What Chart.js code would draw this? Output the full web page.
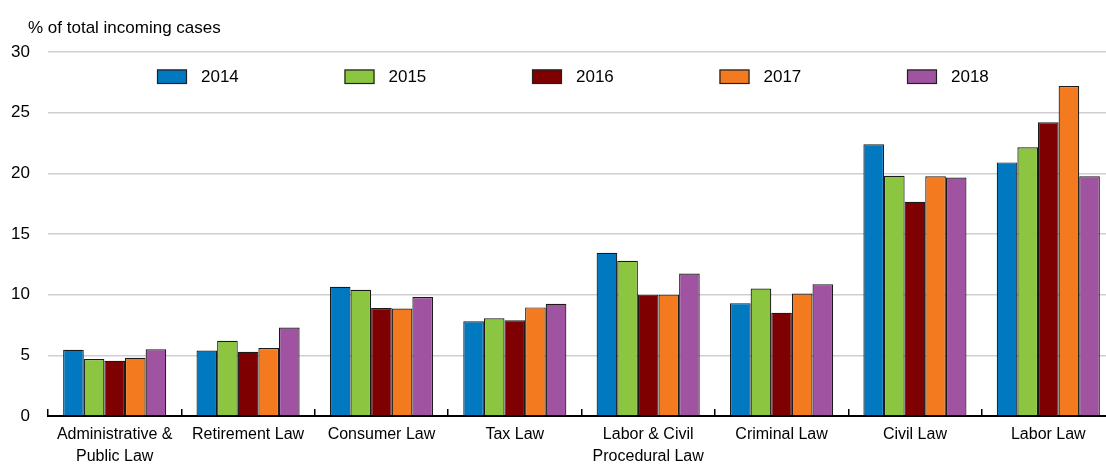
<!DOCTYPE html>
<html><head><meta charset="utf-8">
<script src="https://cdn.jsdelivr.net/npm/chart.js@4.4.1/dist/chart.umd.min.js"></script>
<style>
html,body{margin:0;padding:0;background:#fff;overflow:hidden;}
#wrap{width:1106px;height:465px;overflow:hidden;position:relative;}
#inner{width:1116px;height:465px;position:absolute;left:0;top:0;}
</style></head><body>
<div id="wrap"><div id="inner"><canvas id="c"></canvas></div></div>
<script>
const categories = [["Administrative &","Public Law"],"Retirement Law","Consumer Law","Tax Law",["Labor & Civil","Procedural Law"],"Criminal Law","Civil Law","Labor Law"];
const seriesLabels = ["2014","2015","2016","2017","2018"];
const v2014 = [5.45, 5.4, 10.65, 7.8, 13.45, 9.3, 22.4, 20.9];
const v2015 = [4.7, 6.2, 10.4, 8.05, 12.8, 10.5, 19.8, 22.15];
const v2016 = [4.55, 5.3, 8.9, 7.9, 10.0, 8.5, 17.65, 24.2];
const v2017 = [4.8, 5.6, 8.85, 8.95, 10.0, 10.1, 19.75, 27.2];
const v2018 = [5.5, 7.3, 9.8, 9.25, 11.75, 10.85, 19.65, 19.75];
const seriesColors = ["#0079C1", "#8CC641", "#7F0000", "#F47A20", "#A053A0"];
const yMin = 0, yMax = 30, yStep = 5;
const yTitle = "% of total incoming cases";

const FONT = "'Liberation Sans',Arial,sans-serif";
const allValues = [v2014, v2015, v2016, v2017, v2018];

const overlay = {
  id: 'overlay',
  afterDraw(chart) {
    const ctx = chart.ctx;
    const ca = chart.chartArea;
    ctx.save();
    ctx.fillStyle = '#000';
    ctx.font = "17px " + FONT;
    ctx.textAlign = 'left';
    ctx.textBaseline = 'alphabetic';
    ctx.fillText(yTitle, 28, 33);
    // legend
    const x0 = ca.left + 109, step = 187.5;
    ctx.textBaseline = 'middle';
    chart.data.datasets.forEach((ds, i) => {
      const x = x0 + i * step;
      const y = ca.top + 17.5;
      ctx.fillStyle = ds.backgroundColor;
      ctx.fillRect(x, y, 30, 14.5);
      ctx.strokeStyle = '#222';
      ctx.lineWidth = 1.2;
      ctx.strokeRect(x + 0.5, y + 0.5, 29, 13.5);
      ctx.fillStyle = '#000';
      ctx.fillText(ds.label, x + 44, y + 7.8);
    });
    ctx.restore();
  }
};

new Chart(document.getElementById('c'), {
  type: 'bar',
  data: {
    labels: categories,
    datasets: seriesLabels.map((lab, i) => ({
      label: lab,
      data: allValues[i],
      backgroundColor: seriesColors[i],
      borderColor: '#1a1a1a',
      borderWidth: 1.2,
      categoryPercentage: 0.773,
      barPercentage: 1.0
    }))
  },
  options: {
    responsive: true,
    maintainAspectRatio: false,
    animation: false,
    layout: { padding: { top: 52, right: 1, left: 0, bottom: 0 } },
    plugins: { legend: { display: false }, title: { display: false }, tooltip: { enabled: false } },
    scales: {
      x: {
        afterFit(scale) { scale.height = 49; },
        grid: { display: true, drawOnChartArea: false, drawTicks: true, tickLength: -7, color: '#000', lineWidth: 1.5 },
        border: { display: true, color: '#000', width: 2 },
        ticks: { color: '#000', font: { family: FONT, size: 16, lineHeight: 1.36 }, padding: 15, maxRotation: 0, autoSkip: false }
      },
      y: {
        min: yMin, max: yMax,
        afterFit(scale) { scale.width = 48; },
        grid: { color: '#cfcfcf', lineWidth: 1.5, drawTicks: false },
        border: { display: false },
        ticks: { stepSize: yStep, color: '#000', font: { family: FONT, size: 17 }, padding: 18 }
      }
    }
  },
  plugins: [overlay]
});
</script>
</body></html>
